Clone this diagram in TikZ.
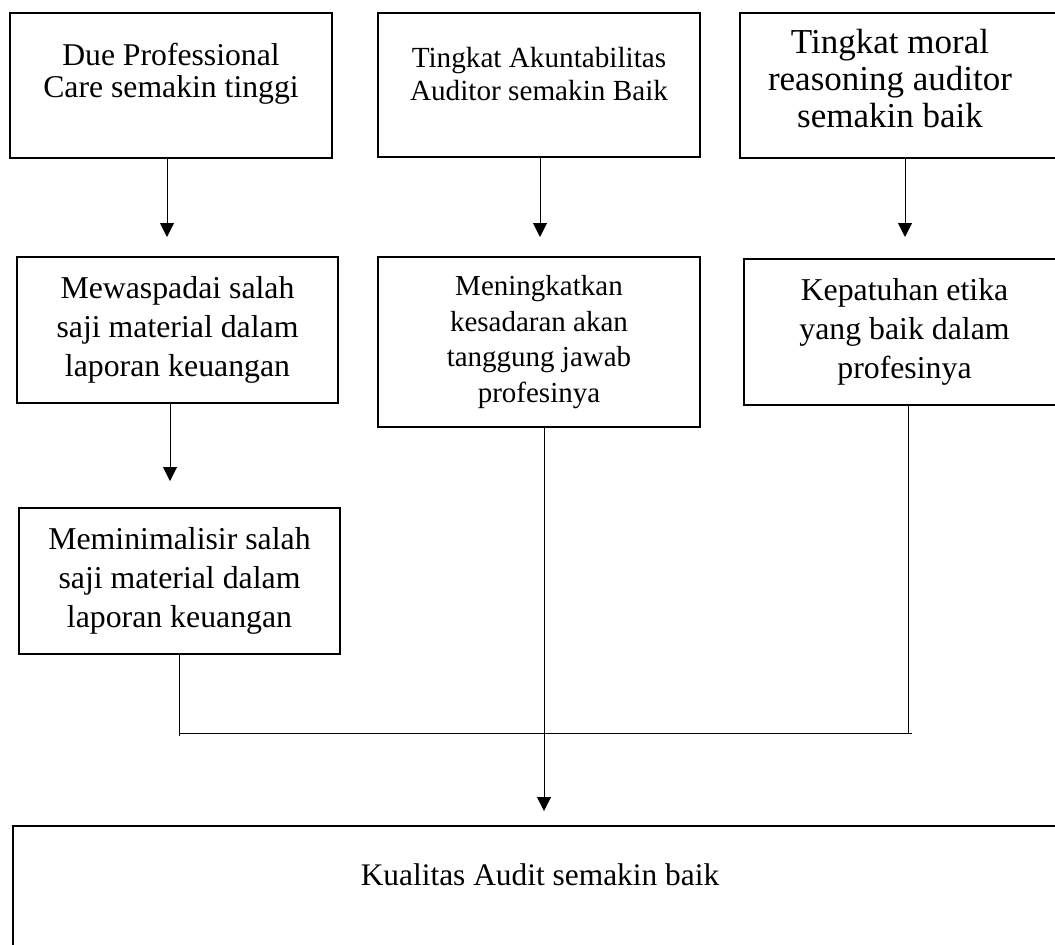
\documentclass[tikz,border=0pt]{standalone}
\usepackage{fontspec}
\setmainfont{Liberation Serif}
\usetikzlibrary{arrows.meta}

\begin{document}
\begin{tikzpicture}[x=1pt,y=-1pt,
	box/.style={draw,line width=2pt,inner sep=0pt,align=center,minimum width=322pt,minimum height=145pt},
	txt/.style={align=center,inner sep=0pt},
	link/.style={line width=1pt},
	arr/.style={link,-{Triangle[width=14pt,length=14pt]}}]
\useasboundingbox (0,0) rectangle (1055,945);
% first row
\node[box] (due) at (171,85.5) {};
\node[txt,font=\fontsize{31.7}{32}\selectfont] (due-t) at ([yshift=11.8]due.center)
	{Due Professional\\Care semakin tinggi};
\node[box,minimum height=144pt] (akun) at (539,85) {};
\node[txt,font=\fontsize{29.2}{33}\selectfont] (akun-t) at ([yshift=11.2]akun.center)
	{Tingkat Akuntabilitas\\Auditor semakin Baik};
\node[box] (moral) at (901,85.5) {};
\node[txt,font=\fontsize{35}{36.7}\selectfont] (moral-t) at ([xshift=-11,yshift=7.1]moral.center)
	{Tingkat moral\\reasoning auditor\\semakin baik};
% second row
\node[box,minimum width=321pt,minimum height=146pt,font=\fontsize{31.8}{39.3}\selectfont] (mewas) at (177.5,330)
	{Mewaspadai salah\\saji material dalam\\laporan keuangan};
\node[box,minimum height=170pt,font=\fontsize{29}{35.8}\selectfont] (sadar) at (539,342)
	{Meningkatkan\\kesadaran akan\\tanggung jawab\\profesinya};
\node[box,minimum width=321pt,minimum height=146pt,font=\fontsize{31.8}{39.3}\selectfont] (patuh) at (904.5,332)
	{Kepatuhan etika\\yang baik dalam\\profesinya};
% third row
\node[box,minimum width=321pt,minimum height=146pt,font=\fontsize{31.8}{39.3}\selectfont] (minim) at (179.5,581)
	{Meminimalisir salah\\saji material dalam\\laporan keuangan};
% result
\node[box,minimum width=1054pt,minimum height=134pt] (hasil) at (540,893) {};
\node[txt,font=\fontsize{31.4}{36}\selectfont] (hasil-t) at ([yshift=18.7]hasil.center)
	{Kualitas Audit semakin baik};
\coordinate (jl) at (179,733);
\coordinate (jr) at (912,733);
% connectors
\draw[arr,shorten >=19pt] ([xshift=-4]due.south) -- ([xshift=-4]due.south |- mewas.north);
\draw[arr,shorten >=19pt] ([xshift=1]akun.south) -- ([xshift=1]akun.south |- sadar.north);
\draw[arr,shorten >=21pt] ([xshift=4]moral.south) -- ([xshift=4]moral.south |- patuh.north);
\draw[arr,shorten >=26pt] ([xshift=-7.5]mewas.south) -- ([xshift=-7.5]mewas.south |- minim.north);
\draw[arr,shorten >=14pt] ([xshift=5]sadar.south) -- ([xshift=5]sadar.south |- hasil.north);
\draw[link] (minim.south) -- ([yshift=-3]minim.south |- jl);
\draw[link] (minim.south |- jl) -- (jr);
\draw[link] ([xshift=3.5]patuh.south) -- ([xshift=3.5]patuh.south |- jr);
\end{tikzpicture}
\end{document}
